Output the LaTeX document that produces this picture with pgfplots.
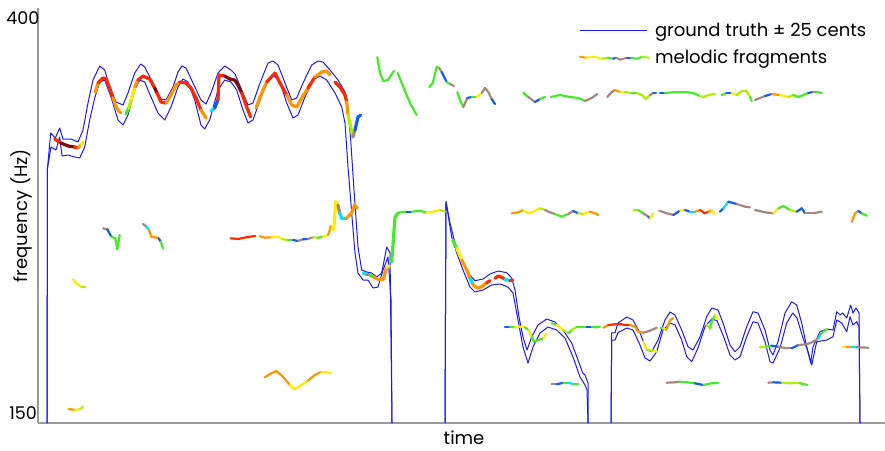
\documentclass[border=0pt]{standalone}
\usepackage{pgfplots}
\pgfplotsset{compat=1.18}
\usepackage{fontspec}
\setmainfont{Poppins}
\definecolor{gtblue}{RGB}{25,25,255}
\definecolor{fr0}{RGB}{165,135,125}
\definecolor{fr1}{RGB}{20,90,255}
\definecolor{fr2}{RGB}{0,225,255}
\definecolor{fr3}{RGB}{70,235,40}
\definecolor{fr4}{RGB}{175,240,0}
\definecolor{fr5}{RGB}{255,235,0}
\definecolor{fr6}{RGB}{255,150,0}
\definecolor{fr7}{RGB}{255,40,0}
\definecolor{fr8}{RGB}{125,10,10}
\pgfplotsset{
  colormap={frag}{rgb255=(165,135,125) rgb255=(20,90,255) rgb255=(0,225,255) rgb255=(70,235,40) rgb255=(175,240,0) rgb255=(255,235,0) rgb255=(255,150,0) rgb255=(255,40,0) rgb255=(125,10,10)},
  fragthick/.style={mesh, point meta=explicit, shader=flat corner, line width=3.2pt, line cap=round, line join=round},
  fragthin/.style={mesh, point meta=explicit, shader=flat corner, line width=2.2pt, line cap=round, line join=round},
  gt/.style={gtblue, line width=1pt, line join=round, mark=none},
}
\begin{document}
\begin{tikzpicture}
\useasboundingbox (0,0) rectangle (885pt,450pt);
\begin{axis}[
  at={(38pt,27pt)}, anchor=south west,
  scale only axis, width=847pt, height=415pt,
  xmin=38, xmax=885, ymin=8, ymax=423, y dir=reverse,
  axis x line*=bottom, axis y line*=left,
  axis line style={draw=black!40, line width=1.2pt, -},
  xtick=\empty,
  ytick={423}, yticklabels={150},
  extra y ticks={8}, extra y tick labels={400},
  extra y tick style={yticklabel style={anchor=north east, xshift=2.5pt}},
  yticklabel style={anchor=south east, xshift=2.5pt},
  major tick length=0pt,
  /pgf/number format/assume math mode=true,
  tick label style={font=\fontsize{17.5}{20}\selectfont},
  label style={font=\fontsize{18}{21}\selectfont},
  xlabel={time}, ylabel={frequency (Hz)},
  xlabel style={at={(axis description cs:0.503,-0.036)}, anchor=center},
  ylabel style={at={(axis description cs:-0.019,0.5)}, anchor=center},
  colormap name=frag, point meta min=0, point meta max=8,
  clip=false,
  legend style={draw=none, fill=none, at={(axis description cs:0.635,0.9745)}, anchor=north west,
    font=\fontsize{18}{21}\selectfont, row sep=8.5pt, legend cell align=left,
    /tikz/every odd column/.append style={column sep=3pt}},
]
\addlegendimage{gtblue, line width=1pt, legend image code/.code={\draw[draw=gtblue, line width=1pt] (0pt,0pt) -- (67pt,0pt);}}
\addlegendentry{ground truth ± 25 cents}
\addlegendimage{legend image code/.code={
  \draw[draw=fr6, line width=2pt, line cap=round] (0pt,1pt) -- (6pt,0pt);
  \draw[draw=fr5, line width=2pt, line cap=round] (6pt,0pt) -- (14pt,1pt) -- (22pt,-1pt);
  \draw[draw=fr4, line width=2pt, line cap=round] (22pt,-1pt) -- (28pt,0pt);
  \draw[draw=fr3, line width=2pt, line cap=round] (28pt,0pt) -- (33pt,-1pt);
  \draw[draw=fr1, line width=2pt, line cap=round] (33pt,-1pt) -- (36pt,0pt);
  \draw[draw=fr0, line width=2pt, line cap=round] (36pt,0pt) -- (40pt,-2pt) -- (47pt,0pt);
  \draw[draw=fr1, line width=2pt, line cap=round] (47pt,0pt) -- (51pt,0pt);
  \draw[draw=fr3, line width=2pt, line cap=round] (51pt,0pt) -- (57pt,-1pt) -- (62pt,1pt);
  \draw[draw=fr4, line width=2pt, line cap=round] (62pt,1pt) -- (69pt,0pt);}}
\addlegendentry{melodic fragments}

% ground truth +/- 25 cents: segment 1
\addplot[gt] coordinates {(47,423) (47.5,168) (50.7,133) (55.3,138) (59.7,128) (63,139) (71,139) (78,142) (83,130) (88,103) (93,80) (99.7,66) (104.7,70) (109.7,87) (116,102) (123,105) (128,93) (134.7,73) (140.7,64) (144.7,67) (153,83) (161,99) (166,100) (173,87) (178,72) (182,66) (186,68) (193,83) (201,100) (206,104) (211,93) (218,73) (224.7,66) (231,70) (235,74) (241.7,90) (248,105) (253,103) (260,83) (268,63) (273,61) (278,65) (285,83) (291.7,100) (296.7,98) (303,83) (311.7,65) (318,61) (323,62) (330,70) (338,80) (345,92) (348,107) (350.7,140) (354,190) (358,247) (361.7,270) (366.7,272) (371.7,273) (376.7,277) (381.7,273) (386.7,247) (390,253) (392,423)};
\addplot[gt] coordinates {(47,423) (47.5,168) (51,147) (56,150) (59.7,137) (62,156) (68,155) (74.7,157) (79.7,158) (84.7,147) (89.7,120) (94.7,98) (99.7,82) (104.7,80) (111,97) (118,120) (123,125) (128,115) (134.7,90) (139.7,80) (144.7,82) (151,97) (158,113) (164.7,120) (171,107) (178,87) (183,79) (188,82) (194.7,100) (201,125) (204.7,129) (209.7,120) (218,90) (224.7,80) (231,82) (236.7,90) (243,110) (248,123) (253,120) (260,100) (268,80) (273,75) (280,82) (286.7,103) (293,118) (298,115) (305,97) (313,80) (320,76) (326.7,80) (335,93) (341.7,107) (345,123) (348,167) (351.7,213) (355,253) (358,273) (363,280) (368,280) (373,288) (378,287) (383,270) (388,257) (391,300) (392,423)};
% segment 2
\addplot[gt] coordinates {(445,423) (446,201.7) (450,223) (455,243) (461.7,260) (468,273) (475,280.7) (483,279) (490,274) (498,271) (506.7,272.7) (511.7,278) (515,290) (519,317) (523,337) (527,350) (531.7,337) (538,325) (546.7,319) (555,322) (563,330) (571.7,343) (578,360) (582.7,373) (585,375) (588,383) (588,423)};
\addplot[gt] coordinates {(445,423) (446,201.7) (451.7,237) (456.7,253) (463,270) (470,287) (475,292) (483,290) (491.7,285) (500,284) (508,287) (513,293) (518,320) (523,347) (528,363) (533,347) (540,333) (548,327) (556.7,330) (565,338) (573,357) (580,377) (585,385) (587,390) (588,423)};
% segment 3
\addplot[gt] coordinates {(611,423) (611.7,333) (615,332.7) (618,323) (626.7,317) (633,320) (640,333) (646.7,350) (651.7,351.7) (658,340) (665,320) (670,312) (675,315) (681.7,330) (688,346.7) (693,350) (700,337) (706.7,316.7) (711.7,308) (718,310) (723,323) (730,345) (735,351.7) (740,346.7) (746.7,326.7) (753,311.7) (758,313) (765,330) (770,350) (773,355) (778,341.7) (785,313) (791.7,301.7) (796.7,305) (801.7,323) (806.7,346.7) (810.7,363) (813,346.7) (820,331.7) (826.7,329) (833,330) (836.7,311.7) (840,315) (842.7,313) (846.7,318) (850.7,305) (853,313) (856,308) (859,313) (860,423)};
\addplot[gt] coordinates {(611,423) (611.7,340) (615,340) (618,332.7) (626.7,328) (633,330) (640,345) (645,358) (650,361) (656.7,351.7) (663,330) (670,323) (675,325) (681.7,340) (686.7,356.7) (691.7,361.7) (698,348) (705,326.7) (711.7,319) (717,320.7) (723,335) (730,355) (735,360) (740,356.7) (746.7,336.7) (753,321.7) (758,323) (765,341.7) (770,361.7) (773,363) (780,348) (786.7,323) (792.7,313) (797,318) (803,338) (808,351.7) (811.7,365) (816.7,341.7) (826.7,340) (833,336.7) (836.7,320) (841.7,323) (846.7,331.7) (850,316.7) (853,325) (856.7,321.7) (859,326.7) (860,423)};

% melodic fragments following the ground truth
\addplot[fragthick] coordinates {(54.7,139) [7] (61,143) [8] (68,146) [8] (74.7,147) [7] (78,148) [6] (80.7,145) [5] (83,142) [5]};
\addplot[fragthick] coordinates {(95.3,92) [6] (98,83) [7] (103,78) [7] (106,79) [7] (109.7,88) [7] (113,98) [6] (116,107) [6] (120.7,113) [6]};
\addplot[fragthick] coordinates {(126,114) [3] (128.7,108) [4] (131,100) [5] (134.7,87) [6] (138,80) [7] (143,76) [7] (149.7,79) [7] (154.7,88) [8] (157,93) [7] (161,102) [7] (166,103) [6] (171,95) [6] (176,85) [6] (179.7,82) [7] (186,83) [7] (191,88) [7] (196,98) [7] (201,110) [6] (206,118) [6]};
\addplot[fragthick] coordinates {(211,111) [2] (214.7,108) [1] (218,100) [7] (219,75) [7] (224.7,76) [8] (229.7,79) [8] (234.7,80) [8] (238,85) [8] (241.7,93) [7] (246.7,107) [7] (250.7,117) [6]};
\addplot[fragthick] coordinates {(256,108) [6] (260,97) [6] (266.7,82) [7] (275,73) [7] (280,83) [7] (286.7,95) [6] (291.7,105) [6] (296.7,107) [6] (301.7,98) [6] (308,88) [7] (315,77) [6] (321.7,72) [6] (326.7,71) [6] (330,75) [6]};
\addplot[fragthick] coordinates {(335,82) [7] (340,87) [7] (345,95) [7] (346.7,102) [6] (348,115) [4] (353,137) [0] (355,130) [1] (358,117) [1] (360.7,115) [3]};
\addplot[fragthick] coordinates {(363.3,273.3) [2] (366.7,274.3) [0] (370,275) [3] (374,277.3) [6] (378.3,279.3) [6] (383.3,279.3) [6] (385,273.3) [6] (386.7,267.3) [5] (389.3,266) [5]};
\addplot[fragthick] coordinates {(452.7,240) [3] (456.7,248.3) [5] (461.7,260) [6] (466.7,270) [6] (470,278.3) [2] (473.3,285) [6] (477.3,288.3) [6] (481.7,286.7) [6] (486.7,282.7) [7] (490,280.7) [7]};
\addplot[fragthick] coordinates {(495,278.3) [7] (498.3,276) [7] (501.7,277.3) [7] (505,279.3) [2] (510,280.7) [7] (512.7,280) [7]};

% other melodic fragments
\addplot[fragthick] coordinates {(391.7,262) [3] (395,217) [3] (398.3,212.7) [3]};
\addplot[fragthin] coordinates {(398.3,212.7) [3] (402,212) [3] (406.7,211.7) [1] (411.7,211.7) [3] (420,210.7) [3] (426.7,212.7) [5] (433.3,211.7) [5] (440,210) [4] (445,211.7) [3]};
\addplot[fragthin] coordinates {(230.7,238.3) [7] (238,239) [7] (246.3,237.3) [7] (255.3,236) [7]};
\addplot[fragthin] coordinates {(259.7,236) [6] (264.7,237.7) [6] (271.3,237.3) [5] (278,236.7) [5] (283,239.3) [4] (288,240) [3] (293,240) [1] (298,241) [0] (303,239.3) [1] (308,239) [0] (313,237.3) [4] (318,237.7) [3] (323,236.7) [5] (328,235) [6] (329.7,230) [6] (330.7,226) [6]};
\addplot[fragthick] coordinates {(333.7,230) [5] (335.7,201.7) [5] (338,205) [0] (339.7,213.3) [2] (342,218.3) [2] (346.3,218.3) [6] (351.3,213.3) [6] (354.7,205) [6] (357.3,208.3) [5]};
\addplot[fragthin] coordinates {(103,228.3) [0] (107.3,229.3) [1] (111.3,236.7) [3] (115.3,238.3) [3] (117.3,249.3) [3] (119.7,235) [3]};
\addplot[fragthin] coordinates {(143,224) [0] (146.3,226.7) [2] (149,230) [6] (151.3,236.7) [6] (154.7,237.3) [6] (158.7,238.3) [1] (160.7,241.7) [3] (163,248.3) [3]};
\addplot[fragthin] coordinates {(73,279.3) [5] (77.3,284) [5] (81.3,286.7) [4] (85.3,286.7) [3]};
\addplot[fragthin] coordinates {(68.7,409) [6] (74.7,410) [5] (79.7,409.3) [4] (83,406.7) [3]};
\addplot[fragthin] coordinates {(264.7,377.3) [6] (271.3,373.3) [6] (276.3,371) [6] (283,376.7) [6] (289.7,385) [5] (294.7,389.3) [5] (301.3,385) [5] (308,380.7) [6] (314.7,375) [6] (321.3,371.7) [5] (326.3,371.7) [5] (330.7,373.3) [5]};

\addplot[fragthin] coordinates {(377.3,57) [3] (380,73) [3] (383.3,81) [3] (388,80) [3] (391.7,74) [3] (394,71) [2]};
\addplot[fragthin] coordinates {(397.7,73) [3] (403.3,87) [3] (410,103) [3] (416.7,115) [2]};
\addplot[fragthin] coordinates {(429.3,87) [3] (432.7,83) [3] (436.7,67) [3] (439.3,68) [0] (441.7,72) [1] (446.7,82) [3] (450,84) [0] (454,86) [0]};
\addplot[fragthin] coordinates {(457.3,92) [3] (460,100) [3] (463.3,107) [0] (467.3,98) [1] (471.7,97) [3] (476.7,97) [5] (481.7,93) [0] (485,88) [0] (488.3,92) [0] (491.7,99) [1] (495,104) [1]};
\addplot[fragthin] coordinates {(523.3,93) [3] (528.3,97) [0] (535,102) [1] (540,99) [3] (545,97) [3]};
\addplot[fragthin] coordinates {(550.7,97) [3] (560,95) [3] (570,97) [3] (578.3,98) [3] (585,101) [0] (591.7,98) [0] (597.3,94) [1]};
\addplot[fragthin] coordinates {(607.3,97) [0] (611.7,92) [0] (615,90) [6] (620,92) [5] (625,92) [4] (631.7,93) [3] (636.7,93) [4] (641.7,95) [4] (646,99) [4] (650,95) [0] (653.3,93) [1] (656,93) [3]};
\addplot[fragthin] coordinates {(660,93) [1] (665,93) [3] (675,92) [3] (685,92) [3] (693.3,93) [3] (700,96) [4] (703.3,97) [4] (708.3,95) [4] (715,94) [3]};
\addplot[fragthin] coordinates {(721.7,95) [3] (726.7,93) [1] (731.7,93) [5] (736.7,95) [4] (741.7,91) [4] (746.7,91) [4] (750,97) [3] (751.7,101) [3]};
\addplot[fragthin] coordinates {(755,100) [0] (765,96) [1] (771.7,94) [6] (780,95) [5] (788.3,97) [4] (793.3,95) [3] (798.3,97) [3] (803.3,95) [3] (808.3,93) [1] (812.7,92) [0] (816.7,92) [3] (821.7,93) [3]};

\addplot[fragthin] coordinates {(511.7,213.3) [6] (518.3,212.3) [6] (523.3,210) [5] (528.3,213.3) [5] (533.3,211.7) [5] (540,208.3) [4] (545,210) [0] (550,212.3) [0] (555,214) [3] (561.7,216.7) [3] (568.3,214) [0] (573.3,211) [1] (578.3,213.3) [4] (583.3,214) [5] (590,211.7) [6] (595,213.3) [6] (598.3,215) [6]};
\addplot[fragthin] coordinates {(633.3,210) [4] (638.3,210) [3] (643.3,213.3) [0] (648.3,216.7) [1] (650,218.3) [5] (653.3,213.3) [5]};
\addplot[fragthin] coordinates {(659.3,210.7) [0] (666.7,213.3) [0] (673.3,215) [1] (680,210.7) [5] (685,210) [1] (690,211.7) [2] (695,211.7) [6] (700,210) [7] (705,213.3) [7] (708.3,211.7) [6] (711.7,210) [5] (714,214) [0]};
\addplot[fragthin] coordinates {(720,211.7) [1] (723.3,208.3) [2] (728.3,201.7) [1] (736.7,204) [0] (745,206.7) [0] (750,207.3) [2]};
\addplot[fragthin] coordinates {(755,210) [0] (765,212.3) [0] (773.3,213.3) [5] (778.3,208.3) [3] (783.3,206) [3] (790,210) [4] (796.7,211.7) [1] (801.7,208.3) [1] (805,213.3) [0] (813.3,213.3) [0] (821.7,211.7) [3]};
\addplot[fragthin] coordinates {(851.7,221.7) [6] (855,213.3) [6] (858.3,211) [1] (861.7,213.3) [3] (866.7,215.7) [4]};

\addplot[fragthin] coordinates {(505,326.7) [1] (510,326.7) [3] (515,327.3) [5] (520,326.7) [5] (525,327.3) [3] (528.3,330) [5] (531.7,336.7) [3] (534,341.7) [3] (538.3,340) [3] (543.3,338.3) [5] (546.7,333.3) [4]};
\addplot[fragthin] coordinates {(551.7,323.3) [3] (556.7,325) [5] (563.3,330) [4] (568.3,333.3) [3] (571.7,330) [4] (576.7,326.7) [3] (581.7,326.7) [3] (586.7,326.7) [1] (591.7,326.7) [3] (596.7,327.3) [3] (600,327.3) [5]};
\addplot[fragthin] coordinates {(551.7,384.3) [0] (556.7,384.3) [1] (563.3,382.7) [3] (568.3,382.7) [2] (573.3,384) [3] (578.3,384) [3]};
\addplot[fragthin] coordinates {(603.3,327.7) [6] (608.3,325) [7] (615,324.3) [7] (620,324) [7] (625,325) [7] (630,325) [6] (635,326.7) [6] (638.3,331.7) [6] (643.3,332.7) [0] (650,330.7) [0] (656.7,327.7) [0]};
\addplot[fragthin] coordinates {(643.3,341.7) [5] (645,346.7) [5] (648.3,350) [4] (653.3,351) [5] (657.3,351.7) [5]};
\addplot[fragthin] coordinates {(660.7,328.3) [3] (663.3,328.3) [5] (666,330) [6] (668.3,325) [6] (670,320) [6] (673.3,318.3) [6]};
\addplot[fragthin] coordinates {(706.7,325) [4] (710,328.3) [3] (711.7,321.7) [3] (715,315) [5] (718.3,319.3) [5]};
\addplot[fragthin] coordinates {(760,347.3) [4] (766.7,346.7) [3] (771.7,345.7) [1] (778.3,346.7) [0] (786.7,348.3) [0] (791.7,348.3) [1] (798.3,345) [0] (806.7,344.3) [0] (813.3,341.7) [0] (818.3,338.3) [2] (820.7,334) [3] (826.7,329.3) [3]};
\addplot[fragthin] coordinates {(842.7,346.7) [5] (846.7,346.7) [6] (851.7,346.7) [2] (856.7,347.3) [0] (868.3,347.7) [0]};
\addplot[fragthin] coordinates {(666.7,382.7) [0] (675,382.3) [0] (680,381.7) [3] (686.7,382.3) [3] (695,383.3) [1] (703.3,385) [3] (711.7,383.3) [3] (718.3,382.7) [3]};
\addplot[fragthin] coordinates {(768.3,382.7) [0] (773.3,382.3) [1] (781.7,382.7) [4] (791.7,383.3) [4] (800,383.3) [3] (807.3,385) [3]};
\end{axis}
\end{tikzpicture}
\end{document}
